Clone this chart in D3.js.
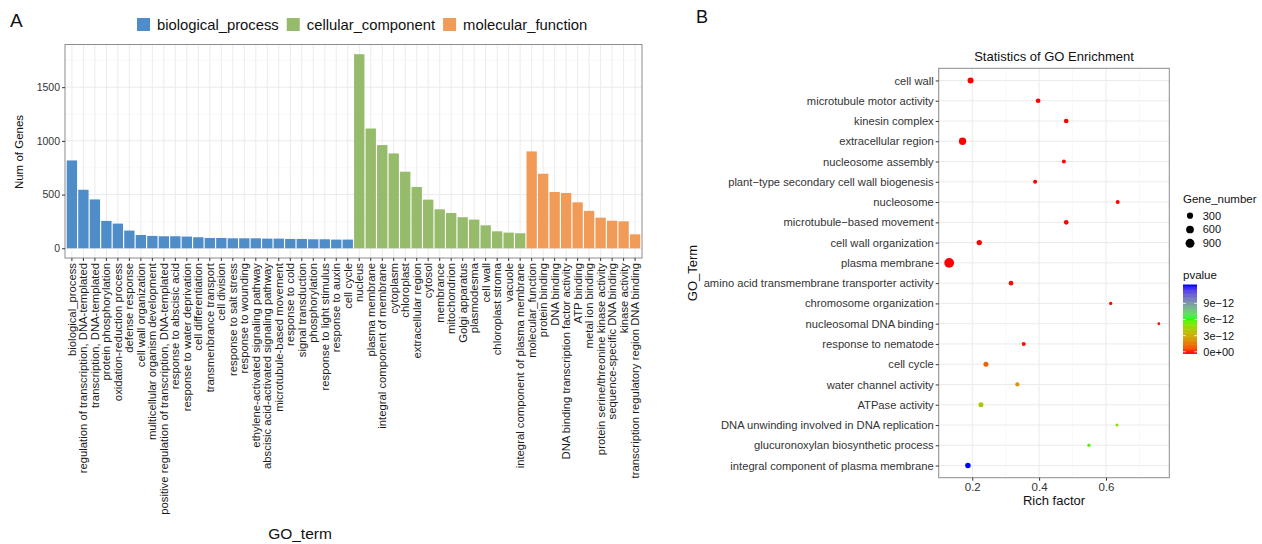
<!DOCTYPE html>
<html><head><meta charset="utf-8">
<script src="https://cdn.jsdelivr.net/npm/d3@7"></script>
<style>
body{margin:0;background:#fff}
text{font-family:"Liberation Sans",Arial,Helvetica,sans-serif}
</style>
</head><body>
<svg id="c" width="1262" height="544"></svg>
<script>
// ---------- Panel A data ----------
const ontologies = ["biological_process", "cellular_component", "molecular_function"];
const bpTerms = ["biological_process","regulation of transcription, DNA-templated","transcription, DNA-templated","protein phosphorylation","oxidation-reduction process","defense response","cell wall organization","multicellular organism development","positive regulation of transcription, DNA-templated","response to abscisic acid","response to water deprivation","cell differentiation","transmenbrance transport","cell division","response to salt stress","response to wounding","ethylene-activated signaling pathway","abscisic acid-activated signaling pathway","microtubule-based movement","response to cold","signal transduction","phosphorylation","response to light stimulus","response to auxin","cell cycle"];
const bpCounts = [818,545,455,255,230,165,124,115,112,112,109,103,96,96,93,93,93,90,90,87,87,84,84,81,81];
const ccTerms = ["nucleus","plasma membrane","integral component of membrane","cytoplasm","chloroplast","extracellular region","cytosol","membrance","mitochondrion","Golgi apparatus","plasmodesma","cell wall","chloroplast stroma","vacuole","integral component of plasma membrane"];
const ccCounts = [1807,1115,961,883,713,571,453,363,329,289,267,214,158,146,140];
const mfTerms = ["molecular_function","protein binding","DNA binding","DNA binding transcription factor activity","ATP binding","metal ion binding","protein serine/threonine kinase activity","sequence-specific DNA binding","kinase activity","transcription regulatory region DNA binding"];
const mfCounts = [902,694,524,515,428,348,285,257,251,130];
const yTicksA = [0, 500, 1000, 1500];

// ---------- Panel B data ----------
const goTerms = ["cell wall","microtubule motor activity","kinesin complex","extracellular region","nucleosome assembly","plant\u2212type secondary cell wall biogenesis","nucleosome","microtubule\u2212based movement","cell wall organization","plasma membrane","amino acid transmembrane transporter activity","chromosome organization","nucleosomal DNA binding","response to nematode","cell cycle","water channel activity","ATPase activity","DNA unwinding involved in DNA replication","glucuronoxylan biosynthetic process","integral component of plasma membrane"];
const richFactor = [0.195,0.397,0.481,0.171,0.474,0.388,0.635,0.481,0.221,0.131,0.316,0.614,0.758,0.354,0.241,0.335,0.226,0.633,0.549,0.187];
const geneNumber = [272,110,110,505,55,55,55,110,177,1150,110,17,4,55,142,76,142,8,17,202];
const pvalue = [2e-40,5e-20,3e-25,1e-60,2e-22,4e-18,1e-21,6e-19,3e-16,1e-80,2e-14,8e-15,5e-15,3e-14,1.0e-12,2.4e-12,4.1e-12,4.9e-12,5.6e-12,1.22e-11];
const xTicksB = [0.2, 0.4, 0.6];
const sizeBreaks = [300, 600, 900];
const pBreaks = [0, 3e-12, 6e-12, 9e-12];

const svg = d3.select("#c");
const GRID = "#EBEBEB", GRIDMIN = "#F4F4F4", BORDER = "#8c8c8c", TXT = "#333";
const FONT = "Liberation Sans, Arial, sans-serif";

// =============== PANEL A ===============
const A = {l:65, r:642, t:44.5, b:258};
const terms = bpTerms.concat(ccTerms, mfTerms);
const counts = bpCounts.concat(ccCounts, mfCounts);
const ont = bpTerms.map(()=>0).concat(ccTerms.map(()=>1), mfTerms.map(()=>2));
const barData = terms.map((t,i)=>({term:t, n:counts[i], o:ont[i]}));
const colA = d3.scaleOrdinal().domain([0,1,2]).range(["#4F8DC8","#95BB6B","#F09C58"]);

const maxA = d3.max(counts);
const yA = d3.scaleLinear().domain([-0.05*maxA, 1.05*maxA]).range([A.b, A.t]);
const xA = d3.scaleBand().domain(terms).range([A.l, A.r]).paddingInner(0.1).paddingOuter(0.15);

const gA = svg.append("g");
gA.selectAll(".ymin").data(yTicksA.map(v=>v+250).filter(v=>v<yA.domain()[1])).join("line")
  .attr("x1",A.l).attr("x2",A.r).attr("y1",d=>yA(d)).attr("y2",d=>yA(d))
  .attr("stroke",GRIDMIN).attr("stroke-width",0.6);
gA.selectAll(".ymaj").data(yTicksA).join("line")
  .attr("x1",A.l).attr("x2",A.r).attr("y1",d=>yA(d)).attr("y2",d=>yA(d))
  .attr("stroke",GRID).attr("stroke-width",1);
gA.selectAll(".xmaj").data(terms).join("line")
  .attr("y1",A.t).attr("y2",A.b).attr("x1",d=>xA(d)+xA.bandwidth()/2).attr("x2",d=>xA(d)+xA.bandwidth()/2)
  .attr("stroke",GRID).attr("stroke-width",1);
gA.selectAll(".bar").data(barData).join("rect")
  .attr("x",d=>xA(d.term)).attr("width",xA.bandwidth())
  .attr("y",d=>yA(d.n)).attr("height",d=>yA(0)-yA(d.n))
  .attr("fill",d=>colA(d.o));
gA.append("rect").attr("x",A.l).attr("y",A.t).attr("width",A.r-A.l).attr("height",A.b-A.t)
  .attr("fill","none").attr("stroke",BORDER).attr("stroke-width",1);
const axYA = gA.append("g").attr("transform",`translate(${A.l},0)`)
  .call(d3.axisLeft(yA).tickValues(yTicksA).tickSize(3).tickPadding(2).tickFormat(d3.format("d")));
axYA.select(".domain").remove();
axYA.selectAll("line").attr("stroke",TXT);
axYA.selectAll("text").attr("fill",TXT).style("font-size","10.5px").style("font-family",FONT);
const axXA = gA.append("g").attr("transform",`translate(0,${A.b})`)
  .call(d3.axisBottom(xA).tickSize(3).tickPadding(2));
axXA.select(".domain").remove();
axXA.selectAll("line").attr("stroke",TXT);
axXA.selectAll("text")
  .attr("transform","rotate(-90)").attr("text-anchor","end")
  .attr("x",-5).attr("y",0).attr("dy","0.35em")
  .attr("fill","#1a1a1a").style("font-size","11.3px").style("font-family",FONT);
svg.append("text").attr("x",19).attr("y",152).attr("transform","rotate(-90,19,152)")
  .attr("text-anchor","middle").attr("dy","0.35em").style("font-size","11.5px").attr("fill","#111").text("Num of Genes");
svg.append("text").attr("x",300).attr("y",533.5).attr("text-anchor","middle").attr("dy","0.35em")
  .style("font-size","15.5px").attr("fill","#111").text("GO_term");
svg.append("text").attr("x",10).attr("y",27).style("font-size","19px").attr("fill","#111").text("A");

// legend A
const legA = svg.append("g").attr("transform","translate(137,0)");
let lx = 0;
ontologies.forEach((name,i)=>{
  const g = legA.append("g");
  g.append("rect").attr("x",0).attr("y",18).attr("width",13).attr("height",13).attr("fill",colA(i));
  const t = g.append("text").attr("x",20).attr("y",24.5).attr("dy","0.35em").style("font-size","14.8px").attr("fill","#111").text(name);
  const w = 20 + t.node().getComputedTextLength();
  g.attr("transform",`translate(${lx},0)`);
  lx += w + 8;
});

// =============== PANEL B ===============
const B = {l:938.7, r:1169.3, t:68.3, b:477.7};
const rMin = d3.min(richFactor), rMax = d3.max(richFactor), rr = rMax - rMin;
const xB = d3.scaleLinear().domain([rMin-0.05*rr, rMax+0.05*rr]).range([B.l, B.r]);
const yB = d3.scalePoint().domain(goTerms).range([B.t, B.b]).padding(0.6);
const sizeB = d3.scaleLinear().domain([0, Math.sqrt(d3.max(geneNumber))]).range([1.2, 4.9]);
const pMin = d3.min(pvalue), pMax = d3.max(pvalue);
const colB = d3.scaleLinear().domain([pMin,(pMin+pMax)/2,pMax]).range(["#FF0000","#00FF00","#0000FF"]).interpolate(d3.interpolateLab);

const gB = svg.append("g");
const minorB = [0.1,0.3,0.5,0.7].filter(v=>v>=xB.domain()[0] && v<=xB.domain()[1]);
gB.selectAll(".xmin").data(minorB).join("line")
  .attr("x1",d=>xB(d)).attr("x2",d=>xB(d)).attr("y1",B.t).attr("y2",B.b)
  .attr("stroke",GRIDMIN).attr("stroke-width",0.6);
gB.selectAll(".xmaj").data(xTicksB).join("line")
  .attr("x1",d=>xB(d)).attr("x2",d=>xB(d)).attr("y1",B.t).attr("y2",B.b)
  .attr("stroke",GRID).attr("stroke-width",1);
gB.selectAll(".ymaj").data(goTerms).join("line")
  .attr("x1",B.l).attr("x2",B.r).attr("y1",d=>yB(d)).attr("y2",d=>yB(d))
  .attr("stroke",GRID).attr("stroke-width",1);
const ptData = goTerms.map((t,i)=>({t, rf:richFactor[i], n:geneNumber[i], p:pvalue[i]}));
gB.selectAll(".pt").data(ptData).join("circle")
  .attr("cx",d=>xB(d.rf)).attr("cy",d=>yB(d.t)).attr("r",d=>sizeB(Math.sqrt(d.n)))
  .attr("fill",d=>colB(d.p));
gB.append("rect").attr("x",B.l).attr("y",B.t).attr("width",B.r-B.l).attr("height",B.b-B.t)
  .attr("fill","none").attr("stroke",BORDER).attr("stroke-width",1);
const axYB = gB.append("g").attr("transform",`translate(${B.l},0)`)
  .call(d3.axisLeft(yB).tickSize(3).tickPadding(2));
axYB.select(".domain").remove();
axYB.selectAll("line").attr("stroke",TXT);
axYB.selectAll("text").attr("fill",TXT).style("font-size","11.2px").style("font-family",FONT);
const axXB = gB.append("g").attr("transform",`translate(0,${B.b})`)
  .call(d3.axisBottom(xB).tickValues(xTicksB).tickSize(3).tickPadding(2).tickFormat(d3.format(".1f")));
axXB.select(".domain").remove();
axXB.selectAll("line").attr("stroke",TXT);
axXB.selectAll("text").attr("fill",TXT).style("font-size","11.5px").style("font-family",FONT);

svg.append("text").attr("x",(B.l+B.r)/2).attr("y",56.7).attr("dy","0.35em").attr("text-anchor","middle")
  .style("font-size","13px").attr("fill","#111").text("Statistics of GO Enrichment");
svg.append("text").attr("x",(B.l+B.r)/2).attr("y",500).attr("dy","0.35em").attr("text-anchor","middle")
  .style("font-size","13px").attr("fill","#111").text("Rich factor");
svg.append("text").attr("x",692).attr("y",273).attr("transform","rotate(-90,692,273)").attr("dy","0.35em").attr("text-anchor","middle")
  .style("font-size","13px").attr("fill","#111").text("GO_Term");
svg.append("text").attr("x",696).attr("y",23).style("font-size","18px").attr("fill","#111").text("B");

// size legend
const legB = svg.append("g");
legB.append("text").attr("x",1183).attr("y",199.3).attr("dy","0.35em").style("font-size","11.5px").attr("fill","#111").text("Gene_number");
const keyY = d3.scalePoint().domain(sizeBreaks).range([215.7, 243.3]);
legB.selectAll(".sk").data(sizeBreaks).join("circle")
  .attr("cx",1190).attr("cy",d=>keyY(d)).attr("r",d=>sizeB(Math.sqrt(d))).attr("fill","#000");
legB.selectAll(".sl").data(sizeBreaks).join("text")
  .attr("x",1202.7).attr("y",d=>keyY(d)).attr("dy","0.35em").style("font-size","11px").attr("fill","#111").text(d=>d);

// colorbar
legB.append("text").attr("x",1183).attr("y",275).attr("dy","0.35em").style("font-size","11.5px").attr("fill","#111").text("pvalue");
const cb = {x:1183, w:14, t:284.5, b:353.5};
const nbin = 20;
const cbH = cb.b - cb.t;
const cbY = d3.scaleLinear().domain([pMin, pMax]).range([cb.b - cbH*0.5/nbin, cb.t + cbH*0.5/nbin]);
const steps = d3.range(120);
legB.selectAll(".cbr").data(steps).join("rect")
  .attr("x",cb.x).attr("width",cb.w)
  .attr("y",d=>cb.t + cbH*d/120).attr("height",cbH/120+0.4)
  .attr("fill",d=>{ const yy = cb.t + cbH*(d+0.5)/120; return colB(Math.max(pMin, Math.min(pMax, cbY.invert(yy)))); });
legB.selectAll(".cbt1").data(pBreaks).join("line")
  .attr("x1",cb.x).attr("x2",cb.x+cb.w/5).attr("y1",d=>cbY(d)).attr("y2",d=>cbY(d)).attr("stroke","#fff").attr("stroke-width",0.8);
legB.selectAll(".cbt2").data(pBreaks).join("line")
  .attr("x1",cb.x+cb.w*4/5).attr("x2",cb.x+cb.w).attr("y1",d=>cbY(d)).attr("y2",d=>cbY(d)).attr("stroke","#fff").attr("stroke-width",0.8);
const fmtE = v => { if (v===0) return "0e+00"; const e = Math.floor(Math.log10(Math.abs(v))+1e-9); const m = Math.round(v/Math.pow(10,e)); return m + "e" + (e<0?"\u2212":"+") + String(Math.abs(e)).padStart(2,"0"); };
legB.selectAll(".cbl").data(pBreaks).join("text")
  .attr("x",1203.3).attr("y",d=>cbY(d)).attr("dy","0.35em").style("font-size","11px").attr("fill","#111").text(fmtE);
</script>
</body></html>
